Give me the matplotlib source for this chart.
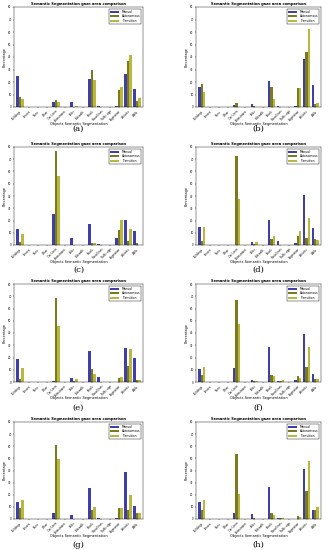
import numpy as np
import matplotlib
matplotlib.use("Agg")
import matplotlib.pyplot as plt


CATEGORIES = [
    "Buildings", "Fences", "None", "Other", "Car Lines", "Pedestrians", "Poles",
    "Sidewalk", "Roads", "Road lines", "Traffic sign", "Vegetation", "Vehicles", "Walls",
]
SERIES = ["Manual", "Autonomous", "Transition"]
COLORS = ["#3f3fab", "#7c7a1e", "#b9b83e"]
PANELS = ["(a)", "(b)", "(c)", "(d)", "(e)", "(f)", "(g)", "(h)"]

# per panel: Manual, Autonomous, Transition (percent per category)
manual_a = [24.5, 0, 0, 0, 4.0, 0, 3.7, 0, 22.7, 0.8, 0, 1.0, 26.7, 14.7]
auto_a = [8.0, 0, 0, 0, 5.6, 0, 0.3, 0, 30.0, 0.3, 0, 13.9, 36.5, 4.5]
trans_a = [6.7, 0, 0, 0, 4.3, 0, 1.0, 0, 21.3, 0.2, 0, 16.0, 42.0, 7.2]

manual_b = [16.0, 0, 0, 0, 1.6, 0, 2.4, 0, 21.0, 1.0, 0, 0.5, 38.4, 17.3]
auto_b = [18.7, 0, 0, 0, 3.2, 0, 0.5, 0, 15.7, 0.2, 0, 15.5, 44.0, 2.4]
trans_b = [12.0, 0, 0, 0, 0, 0, 0.3, 0, 6.7, 0.1, 0, 15.0, 62.4, 3.5]

manual_c = [13.4, 0, 0, 0, 24.9, 0, 5.5, 0, 17.5, 0.5, 0, 5.5, 20.5, 11.7]
auto_c = [2.7, 0, 0, 0, 77.0, 0, 0, 0, 1.9, 0.2, 0, 12.0, 3.5, 1.6]
trans_c = [9.3, 0, 0, 0, 56.0, 0, 0, 0, 1.9, 0, 0, 20.2, 12.8, 0]

manual_d = [15.0, 0, 0, 0, 0, 0, 2.7, 0, 20.2, 3.5, 0, 1.9, 41.0, 14.2]
auto_d = [3.3, 0, 0, 0, 72.4, 0, 0.5, 0, 4.9, 0, 0, 7.7, 5.7, 4.9]
trans_d = [14.8, 0, 0, 0, 37.7, 0, 2.7, 0, 7.1, 0, 0, 11.5, 22.4, 3.8]

manual_e = [18.7, 0, 0, 0, 1.1, 0, 3.3, 0, 25.2, 4.0, 0, 0.3, 27.4, 19.8]
auto_e = [2.2, 0, 0, 0, 68.3, 0, 1.0, 0, 10.3, 0, 0, 3.3, 13.0, 1.4]
trans_e = [11.4, 0, 0, 0, 46.0, 0, 2.7, 0, 6.5, 0, 0, 4.3, 27.1, 1.4]

manual_f = [11.0, 0, 0, 0, 11.7, 0, 1.6, 0, 28.5, 1.0, 0, 1.4, 38.8, 6.2]
auto_f = [5.7, 0, 0, 0, 67.0, 0, 0.5, 0, 6.0, 1.0, 0, 4.9, 12.0, 2.7]
trans_f = [12.5, 0, 0, 0, 47.0, 0, 0.5, 0, 4.9, 1.6, 0, 3.3, 28.5, 2.2]

manual_g = [14.2, 0, 0, 0, 4.9, 0, 3.3, 0, 25.9, 0.5, 0, 0.8, 39.0, 10.4]
auto_g = [8.7, 0, 0, 0, 61.0, 0, 0.3, 0, 7.4, 0.3, 0, 9.3, 7.7, 5.2]
trans_g = [15.6, 0, 0, 0, 49.4, 0, 0, 0, 9.8, 0, 0, 9.3, 20.0, 5.2]

manual_h = [14.0, 0, 0, 0, 4.6, 0, 4.4, 0, 26.5, 0.7, 0, 0.3, 41.5, 7.4]
auto_h = [7.7, 0, 0, 0, 53.2, 0, 0.5, 0, 4.6, 0.7, 0, 2.7, 23.2, 7.4]
trans_h = [15.6, 0, 0, 0, 21.0, 0, 0, 0, 3.6, 0.7, 0, 1.6, 47.8, 9.8]

DATA = [
    (manual_a, auto_a, trans_a),
    (manual_b, auto_b, trans_b),
    (manual_c, auto_c, trans_c),
    (manual_d, auto_d, trans_d),
    (manual_e, auto_e, trans_e),
    (manual_f, auto_f, trans_f),
    (manual_g, auto_g, trans_g),
    (manual_h, auto_h, trans_h),
]

W, H = 334, 550
fig = plt.figure(figsize=(W / 100, H / 100), dpi=100)

# axes boxes in pixels: (left, right), row tops/bottoms, caption rows
COLS = [(14, 143), (196, 321)]
ROWS = [(7, 107), (147, 245), (284, 382), (422, 519)]
CAPTIONS_Y = [129, 270, 408, 545]

x = np.arange(1, len(CATEGORIES) + 1)
width = 0.27

for i, (panel, series) in enumerate(zip(PANELS, DATA)):
    row, col = divmod(i, 2)
    left, right = COLS[col]
    top, bottom = ROWS[row]
    ax_h = bottom - top
    ax = fig.add_axes([left / W, 1 - bottom / H, (right - left) / W, ax_h / H])

    for j, (name, values) in enumerate(zip(SERIES, series)):
        ax.bar(x + (j - 1) * width, values, width=width, color=COLORS[j],
               edgecolor="none", label=name)

    ax.set_xlim(0.35, 14.65)
    ax.set_ylim(0, 80)
    ax.set_yticks(range(0, 81, 10))
    ax.set_xticks(x)
    ax.set_xticklabels(CATEGORIES, rotation=45, ha="right", rotation_mode="anchor")
    ax.tick_params(labelsize=1.9, length=1, width=0.3, pad=0.8)
    for s in ax.spines.values():
        s.set_linewidth(0.3)
    ax.set_title("Semantic Segmentation gaze area comparison", fontsize=2.6,
                 fontweight="bold", pad=1.5)
    ax.set_xlabel("Objects Semantic Segmentation", fontsize=2.5)
    ax.xaxis.set_label_coords(0.5, -14.5 / ax_h)
    ax.set_ylabel("Percentage", fontsize=2.5, labelpad=1)
    leg = ax.legend(loc="upper right", fontsize=2.2, handlelength=3, handleheight=0.8,
                    borderpad=0.4, labelspacing=0.2, fancybox=False, framealpha=1)
    leg.get_frame().set_linewidth(0.3)
    leg.get_frame().set_edgecolor("black")

    cx = (left + right) / 2 / W
    fig.text(cx, 1 - CAPTIONS_Y[row] / H, panel, ha="center", va="center",
             fontsize=6, family="DejaVu Serif")

fig.savefig("out.png", dpi=100)
